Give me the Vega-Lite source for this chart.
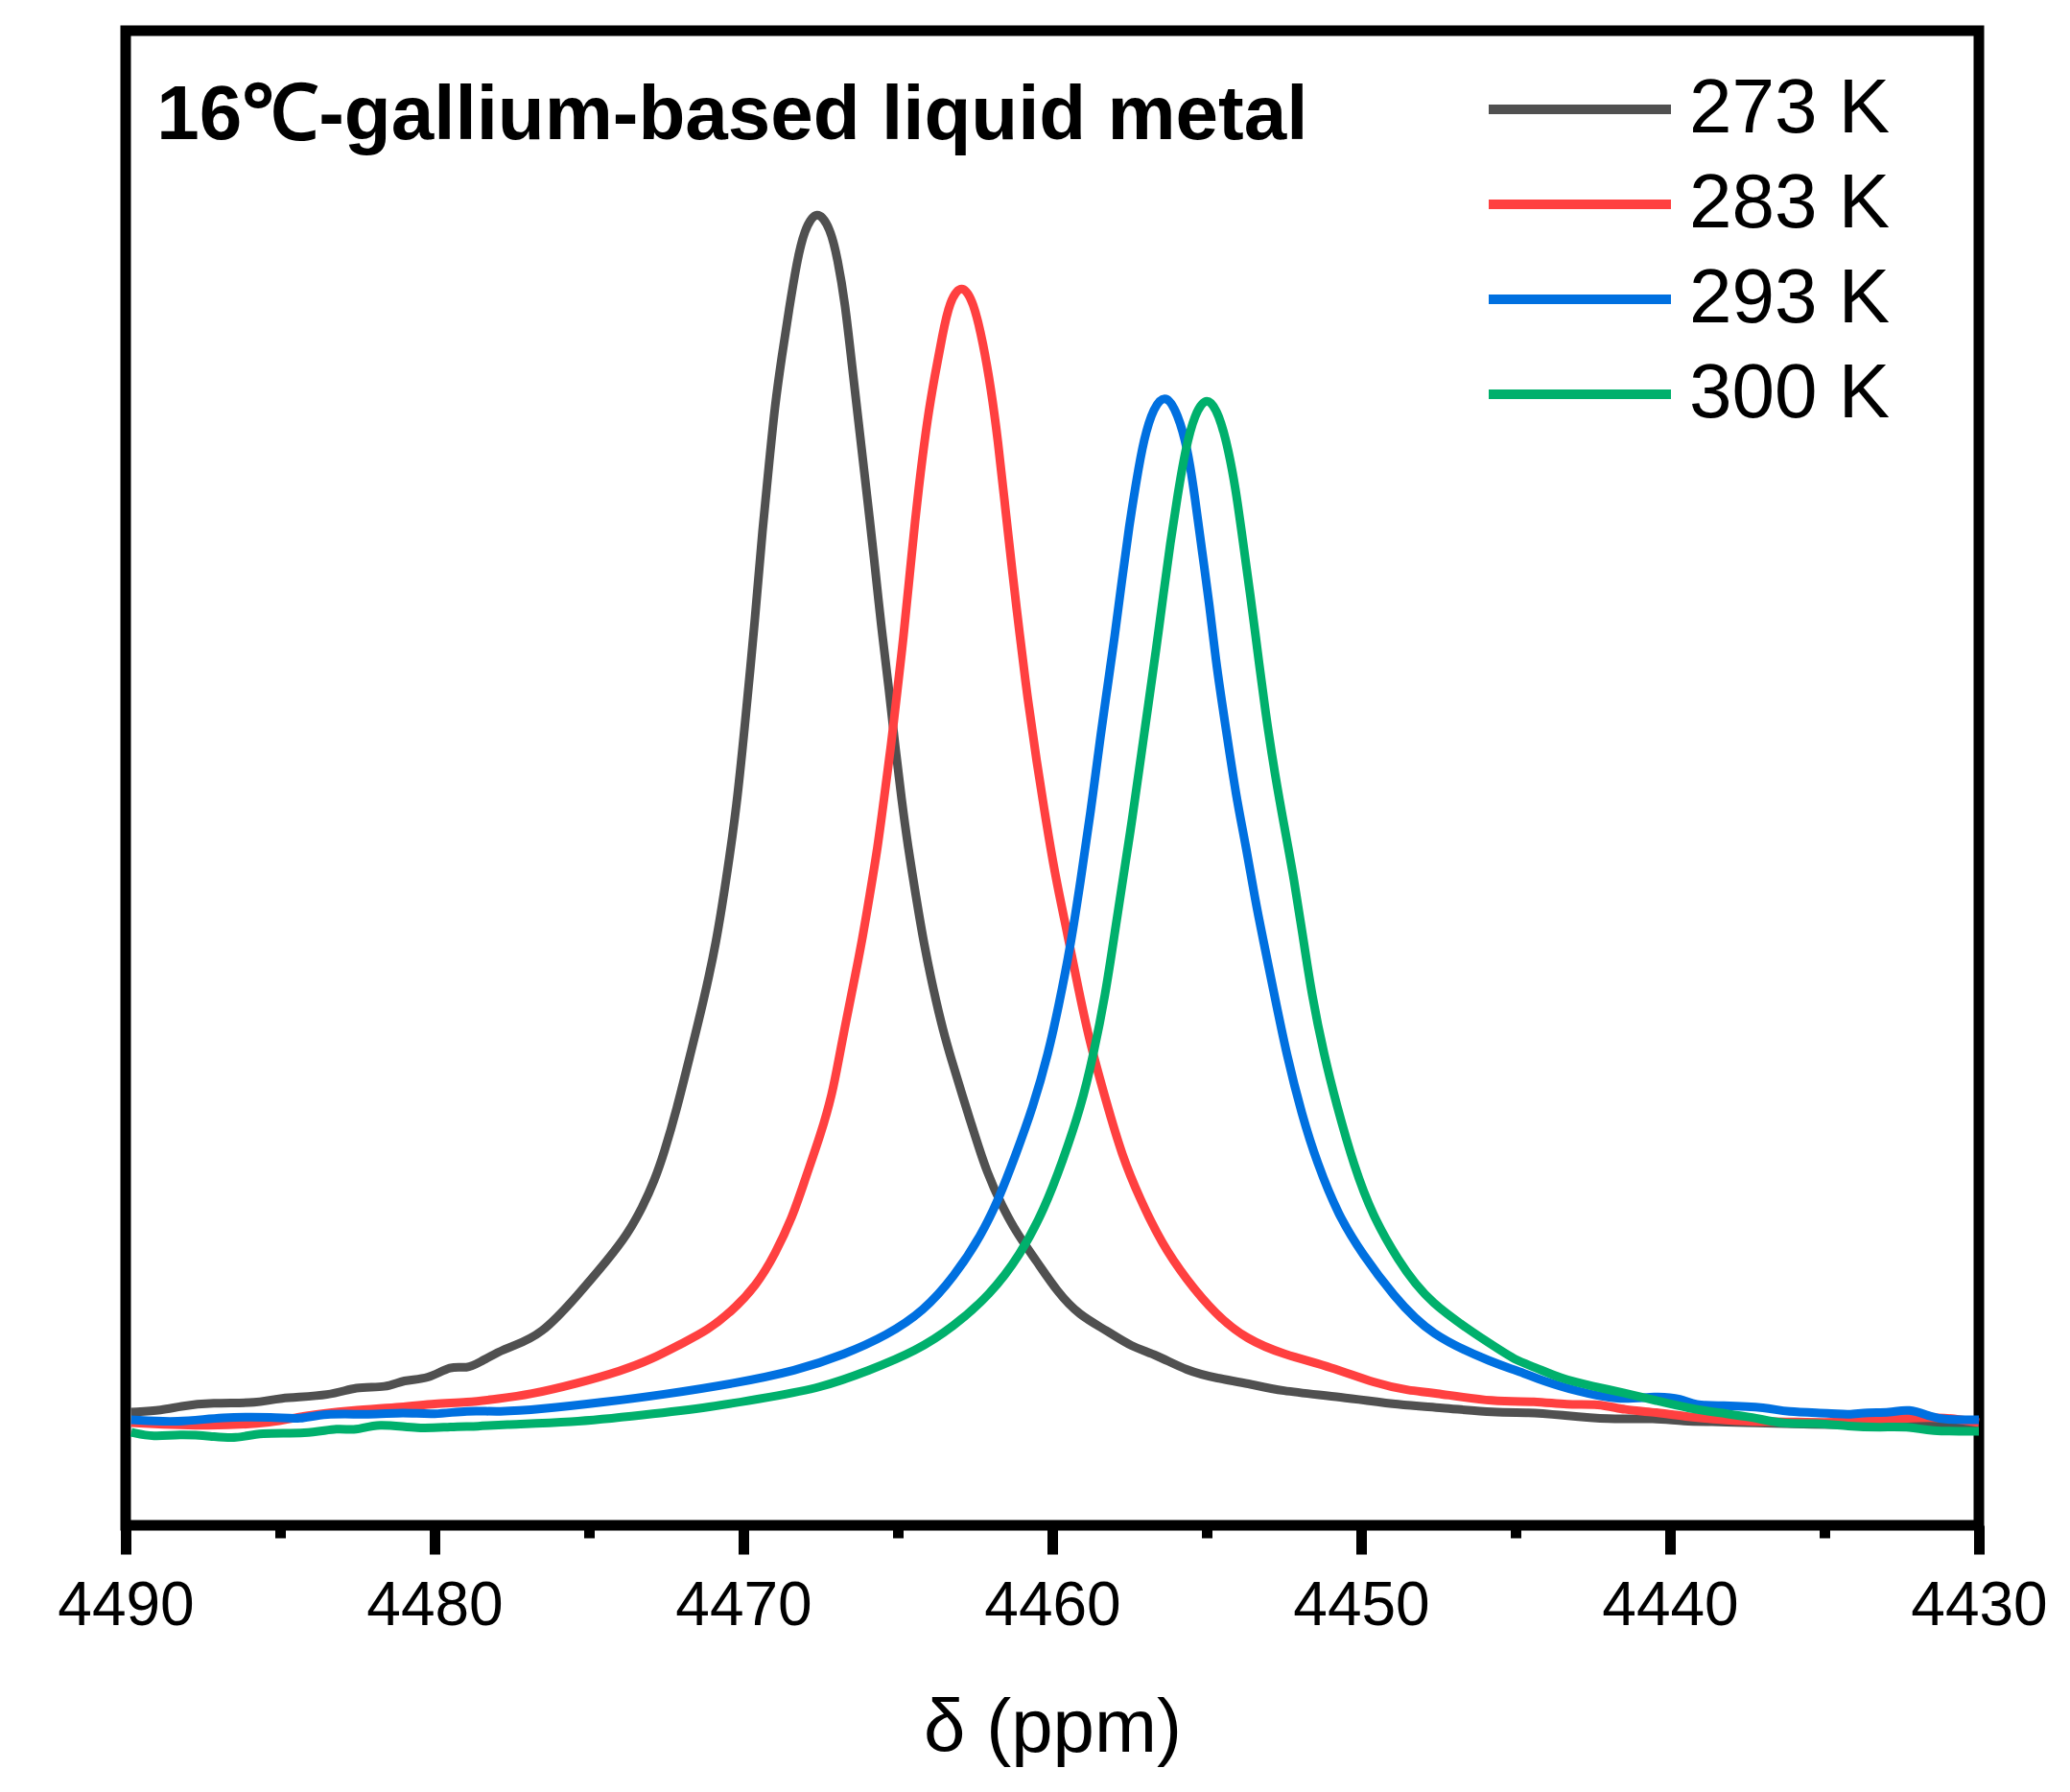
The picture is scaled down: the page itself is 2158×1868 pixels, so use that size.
{
  "$schema": "https://vega.github.io/schema/vega-lite/v6.json",
  "width": 1932,
  "height": 1558,
  "autosize": {"type": "none"},
  "padding": {"left": 131, "top": 32, "right": 95, "bottom": 278},
  "background": "white",
  "config": {
    "view": {"stroke": "black", "strokeWidth": 11},
    "font": "Liberation Sans"
  },
  "datasets": {
    "spectra": [
      {"ppm": 4489.82, "I": 118, "T": "273 K"}, {"ppm": 4488.79, "I": 120, "T": "273 K"}, {"ppm": 4488.27, "I": 124, "T": "273 K"}, {"ppm": 4487.23, "I": 128, "T": "273 K"}, {"ppm": 4485.68, "I": 127, "T": "273 K"}, {"ppm": 4485.16, "I": 133, "T": "273 K"}, {"ppm": 4483.30, "I": 135, "T": "273 K"}, {"ppm": 4482.58, "I": 145, "T": "273 K"}, {"ppm": 4481.54, "I": 143, "T": "273 K"}, {"ppm": 4481.02, "I": 152, "T": "273 K"}, {"ppm": 4480.20, "I": 152, "T": "273 K"}, {"ppm": 4479.47, "I": 167, "T": "273 K"}, {"ppm": 4478.95, "I": 163, "T": "273 K"}, {"ppm": 4478.54, "I": 170, "T": "273 K"}, {"ppm": 4477.92, "I": 181, "T": "273 K"}, {"ppm": 4477.55, "I": 186, "T": "273 K"}, {"ppm": 4476.55, "I": 198, "T": "273 K"}, {"ppm": 4475.36, "I": 240, "T": "273 K"}, {"ppm": 4474.36, "I": 278, "T": "273 K"}, {"ppm": 4473.76, "I": 303, "T": "273 K"}, {"ppm": 4473.26, "I": 332, "T": "273 K"}, {"ppm": 4472.87, "I": 360, "T": "273 K"}, {"ppm": 4472.57, "I": 388, "T": "273 K"}, {"ppm": 4472.17, "I": 432, "T": "273 K"}, {"ppm": 4471.71, "I": 492, "T": "273 K"}, {"ppm": 4471.30, "I": 545, "T": "273 K"}, {"ppm": 4470.88, "I": 607, "T": "273 K"}, {"ppm": 4470.57, "I": 670, "T": "273 K"}, {"ppm": 4470.21, "I": 750, "T": "273 K"}, {"ppm": 4469.92, "I": 845, "T": "273 K"}, {"ppm": 4469.62, "I": 945, "T": "273 K"}, {"ppm": 4469.38, "I": 1040, "T": "273 K"}, {"ppm": 4469.15, "I": 1112, "T": "273 K"}, {"ppm": 4468.99, "I": 1165, "T": "273 K"}, {"ppm": 4468.75, "I": 1220, "T": "273 K"}, {"ppm": 4468.52, "I": 1268, "T": "273 K"}, {"ppm": 4468.28, "I": 1315, "T": "273 K"}, {"ppm": 4468.04, "I": 1350, "T": "273 K"}, {"ppm": 4467.62, "I": 1373, "T": "273 K"}, {"ppm": 4467.18, "I": 1352, "T": "273 K"}, {"ppm": 4466.95, "I": 1320, "T": "273 K"}, {"ppm": 4466.71, "I": 1275, "T": "273 K"}, {"ppm": 4466.48, "I": 1208, "T": "273 K"}, {"ppm": 4466.24, "I": 1141, "T": "273 K"}, {"ppm": 4466.00, "I": 1074, "T": "273 K"}, {"ppm": 4465.76, "I": 1006, "T": "273 K"}, {"ppm": 4465.55, "I": 940, "T": "273 K"}, {"ppm": 4465.29, "I": 873, "T": "273 K"}, {"ppm": 4465.08, "I": 810, "T": "273 K"}, {"ppm": 4464.88, "I": 757, "T": "273 K"}, {"ppm": 4464.67, "I": 707, "T": "273 K"}, {"ppm": 4464.41, "I": 655, "T": "273 K"}, {"ppm": 4464.15, "I": 605, "T": "273 K"}, {"ppm": 4463.84, "I": 557, "T": "273 K"}, {"ppm": 4463.53, "I": 515, "T": "273 K"}, {"ppm": 4463.27, "I": 486, "T": "273 K"}, {"ppm": 4462.91, "I": 448, "T": "273 K"}, {"ppm": 4462.51, "I": 407, "T": "273 K"}, {"ppm": 4462.12, "I": 368, "T": "273 K"}, {"ppm": 4461.62, "I": 332, "T": "273 K"}, {"ppm": 4461.12, "I": 303, "T": "273 K"}, {"ppm": 4460.52, "I": 276, "T": "273 K"}, {"ppm": 4459.83, "I": 243, "T": "273 K"}, {"ppm": 4459.13, "I": 219, "T": "273 K"}, {"ppm": 4458.23, "I": 203, "T": "273 K"}, {"ppm": 4457.44, "I": 186, "T": "273 K"}, {"ppm": 4456.64, "I": 178, "T": "273 K"}, {"ppm": 4455.65, "I": 161, "T": "273 K"}, {"ppm": 4454.65, "I": 153, "T": "273 K"}, {"ppm": 4453.65, "I": 148, "T": "273 K"}, {"ppm": 4452.66, "I": 140, "T": "273 K"}, {"ppm": 4450.67, "I": 134, "T": "273 K"}, {"ppm": 4448.68, "I": 125, "T": "273 K"}, {"ppm": 4447.48, "I": 123, "T": "273 K"}, {"ppm": 4445.62, "I": 117, "T": "273 K"}, {"ppm": 4444.59, "I": 118, "T": "273 K"}, {"ppm": 4443.55, "I": 115, "T": "273 K"}, {"ppm": 4442.00, "I": 110, "T": "273 K"}, {"ppm": 4440.44, "I": 112, "T": "273 K"}, {"ppm": 4439.62, "I": 108, "T": "273 K"}, {"ppm": 4438.37, "I": 108, "T": "273 K"}, {"ppm": 4437.34, "I": 107, "T": "273 K"}, {"ppm": 4435.50, "I": 105, "T": "273 K"}, {"ppm": 4433.00, "I": 104, "T": "273 K"}, {"ppm": 4430.00, "I": 104, "T": "273 K"},

      {"ppm": 4489.82, "I": 107, "T": "283 K"}, {"ppm": 4487.23, "I": 103, "T": "283 K"}, {"ppm": 4485.16, "I": 107, "T": "283 K"}, {"ppm": 4484.34, "I": 114, "T": "283 K"}, {"ppm": 4482.68, "I": 120, "T": "283 K"}, {"ppm": 4481.02, "I": 123, "T": "283 K"}, {"ppm": 4480.00, "I": 127, "T": "283 K"}, {"ppm": 4478.95, "I": 128, "T": "283 K"}, {"ppm": 4477.92, "I": 132, "T": "283 K"}, {"ppm": 4476.95, "I": 136, "T": "283 K"}, {"ppm": 4475.36, "I": 148, "T": "283 K"}, {"ppm": 4473.96, "I": 161, "T": "283 K"}, {"ppm": 4472.97, "I": 173, "T": "283 K"}, {"ppm": 4471.97, "I": 190, "T": "283 K"}, {"ppm": 4471.17, "I": 203, "T": "283 K"}, {"ppm": 4470.38, "I": 223, "T": "283 K"}, {"ppm": 4469.58, "I": 250, "T": "283 K"}, {"ppm": 4468.98, "I": 282, "T": "283 K"}, {"ppm": 4468.39, "I": 323, "T": "283 K"}, {"ppm": 4467.99, "I": 362, "T": "283 K"}, {"ppm": 4467.49, "I": 408, "T": "283 K"}, {"ppm": 4467.12, "I": 450, "T": "283 K"}, {"ppm": 4466.90, "I": 488, "T": "283 K"}, {"ppm": 4466.74, "I": 515, "T": "283 K"}, {"ppm": 4466.48, "I": 557, "T": "283 K"}, {"ppm": 4466.17, "I": 607, "T": "283 K"}, {"ppm": 4465.91, "I": 657, "T": "283 K"}, {"ppm": 4465.65, "I": 707, "T": "283 K"}, {"ppm": 4465.45, "I": 757, "T": "283 K"}, {"ppm": 4465.22, "I": 812, "T": "283 K"}, {"ppm": 4465.00, "I": 875, "T": "283 K"}, {"ppm": 4464.82, "I": 925, "T": "283 K"}, {"ppm": 4464.65, "I": 980, "T": "283 K"}, {"ppm": 4464.43, "I": 1051, "T": "283 K"}, {"ppm": 4464.27, "I": 1096, "T": "283 K"}, {"ppm": 4464.04, "I": 1154, "T": "283 K"}, {"ppm": 4463.80, "I": 1199, "T": "283 K"}, {"ppm": 4463.56, "I": 1240, "T": "283 K"}, {"ppm": 4463.33, "I": 1276, "T": "283 K"}, {"ppm": 4462.93, "I": 1295, "T": "283 K"}, {"ppm": 4462.55, "I": 1276, "T": "283 K"}, {"ppm": 4462.23, "I": 1231, "T": "283 K"}, {"ppm": 4461.99, "I": 1186, "T": "283 K"}, {"ppm": 4461.76, "I": 1132, "T": "283 K"}, {"ppm": 4461.52, "I": 1060, "T": "283 K"}, {"ppm": 4461.28, "I": 990, "T": "283 K"}, {"ppm": 4461.06, "I": 930, "T": "283 K"}, {"ppm": 4460.80, "I": 862, "T": "283 K"}, {"ppm": 4460.51, "I": 797, "T": "283 K"}, {"ppm": 4460.22, "I": 738, "T": "283 K"}, {"ppm": 4459.91, "I": 678, "T": "283 K"}, {"ppm": 4459.55, "I": 623, "T": "283 K"}, {"ppm": 4459.24, "I": 573, "T": "283 K"}, {"ppm": 4458.82, "I": 507, "T": "283 K"}, {"ppm": 4458.24, "I": 440, "T": "283 K"}, {"ppm": 4457.75, "I": 386, "T": "283 K"}, {"ppm": 4457.16, "I": 340, "T": "283 K"}, {"ppm": 4456.46, "I": 294, "T": "283 K"}, {"ppm": 4455.68, "I": 257, "T": "283 K"}, {"ppm": 4454.69, "I": 219, "T": "283 K"}, {"ppm": 4453.71, "I": 194, "T": "283 K"}, {"ppm": 4452.52, "I": 178, "T": "283 K"}, {"ppm": 4450.95, "I": 165, "T": "283 K"}, {"ppm": 4449.57, "I": 148, "T": "283 K"}, {"ppm": 4448.39, "I": 140, "T": "283 K"}, {"ppm": 4447.79, "I": 139, "T": "283 K"}, {"ppm": 4445.62, "I": 128, "T": "283 K"}, {"ppm": 4444.38, "I": 130, "T": "283 K"}, {"ppm": 4443.34, "I": 125, "T": "283 K"}, {"ppm": 4442.31, "I": 127, "T": "283 K"}, {"ppm": 4441.48, "I": 120, "T": "283 K"}, {"ppm": 4440.44, "I": 118, "T": "283 K"}, {"ppm": 4439.41, "I": 113, "T": "283 K"}, {"ppm": 4438.37, "I": 110, "T": "283 K"}, {"ppm": 4437.34, "I": 108, "T": "283 K"}, {"ppm": 4436.30, "I": 108, "T": "283 K"}, {"ppm": 4435.00, "I": 107, "T": "283 K"}, {"ppm": 4433.72, "I": 108, "T": "283 K"}, {"ppm": 4432.27, "I": 112, "T": "283 K"}, {"ppm": 4431.13, "I": 113, "T": "283 K"}, {"ppm": 4430.00, "I": 107, "T": "283 K"},

      {"ppm": 4489.82, "I": 110, "T": "293 K"}, {"ppm": 4488.27, "I": 107, "T": "293 K"}, {"ppm": 4486.92, "I": 113, "T": "293 K"}, {"ppm": 4485.16, "I": 113, "T": "293 K"}, {"ppm": 4484.34, "I": 110, "T": "293 K"}, {"ppm": 4483.61, "I": 117, "T": "293 K"}, {"ppm": 4482.06, "I": 115, "T": "293 K"}, {"ppm": 4481.02, "I": 118, "T": "293 K"}, {"ppm": 4480.00, "I": 115, "T": "293 K"}, {"ppm": 4478.95, "I": 120, "T": "293 K"}, {"ppm": 4477.92, "I": 118, "T": "293 K"}, {"ppm": 4476.57, "I": 121, "T": "293 K"}, {"ppm": 4474.60, "I": 128, "T": "293 K"}, {"ppm": 4472.64, "I": 136, "T": "293 K"}, {"ppm": 4470.27, "I": 148, "T": "293 K"}, {"ppm": 4468.30, "I": 161, "T": "293 K"}, {"ppm": 4466.73, "I": 178, "T": "293 K"}, {"ppm": 4465.35, "I": 198, "T": "293 K"}, {"ppm": 4464.17, "I": 223, "T": "293 K"}, {"ppm": 4463.18, "I": 259, "T": "293 K"}, {"ppm": 4462.30, "I": 302, "T": "293 K"}, {"ppm": 4461.71, "I": 342, "T": "293 K"}, {"ppm": 4461.21, "I": 384, "T": "293 K"}, {"ppm": 4460.62, "I": 436, "T": "293 K"}, {"ppm": 4460.12, "I": 493, "T": "293 K"}, {"ppm": 4459.80, "I": 540, "T": "293 K"}, {"ppm": 4459.39, "I": 607, "T": "293 K"}, {"ppm": 4459.08, "I": 673, "T": "293 K"}, {"ppm": 4458.77, "I": 740, "T": "293 K"}, {"ppm": 4458.41, "I": 830, "T": "293 K"}, {"ppm": 4458.22, "I": 872, "T": "293 K"}, {"ppm": 4457.98, "I": 926, "T": "293 K"}, {"ppm": 4457.75, "I": 984, "T": "293 K"}, {"ppm": 4457.51, "I": 1042, "T": "293 K"}, {"ppm": 4457.27, "I": 1090, "T": "293 K"}, {"ppm": 4457.04, "I": 1132, "T": "293 K"}, {"ppm": 4456.72, "I": 1166, "T": "293 K"}, {"ppm": 4456.32, "I": 1180, "T": "293 K"}, {"ppm": 4455.94, "I": 1159, "T": "293 K"}, {"ppm": 4455.62, "I": 1123, "T": "293 K"}, {"ppm": 4455.39, "I": 1074, "T": "293 K"}, {"ppm": 4455.15, "I": 1015, "T": "293 K"}, {"ppm": 4454.91, "I": 960, "T": "293 K"}, {"ppm": 4454.68, "I": 894, "T": "293 K"}, {"ppm": 4454.36, "I": 827, "T": "293 K"}, {"ppm": 4454.05, "I": 760, "T": "293 K"}, {"ppm": 4453.74, "I": 710, "T": "293 K"}, {"ppm": 4453.42, "I": 650, "T": "293 K"}, {"ppm": 4453.20, "I": 615, "T": "293 K"}, {"ppm": 4452.81, "I": 553, "T": "293 K"}, {"ppm": 4452.41, "I": 490, "T": "293 K"}, {"ppm": 4451.92, "I": 428, "T": "293 K"}, {"ppm": 4451.43, "I": 378, "T": "293 K"}, {"ppm": 4450.74, "I": 323, "T": "293 K"}, {"ppm": 4449.95, "I": 282, "T": "293 K"}, {"ppm": 4448.97, "I": 240, "T": "293 K"}, {"ppm": 4447.78, "I": 198, "T": "293 K"}, {"ppm": 4445.62, "I": 168, "T": "293 K"}, {"ppm": 4445.00, "I": 162, "T": "293 K"}, {"ppm": 4444.07, "I": 150, "T": "293 K"}, {"ppm": 4443.03, "I": 140, "T": "293 K"}, {"ppm": 4441.69, "I": 130, "T": "293 K"}, {"ppm": 4440.44, "I": 135, "T": "293 K"}, {"ppm": 4439.62, "I": 132, "T": "293 K"}, {"ppm": 4439.20, "I": 125, "T": "293 K"}, {"ppm": 4438.38, "I": 125, "T": "293 K"}, {"ppm": 4436.82, "I": 123, "T": "293 K"}, {"ppm": 4436.30, "I": 118, "T": "293 K"}, {"ppm": 4434.75, "I": 117, "T": "293 K"}, {"ppm": 4434.23, "I": 115, "T": "293 K"}, {"ppm": 4433.61, "I": 118, "T": "293 K"}, {"ppm": 4432.89, "I": 117, "T": "293 K"}, {"ppm": 4432.27, "I": 122, "T": "293 K"}, {"ppm": 4431.54, "I": 113, "T": "293 K"}, {"ppm": 4431.13, "I": 110, "T": "293 K"}, {"ppm": 4430.00, "I": 110, "T": "293 K"},

      {"ppm": 4489.82, "I": 97, "T": "300 K"}, {"ppm": 4489.10, "I": 92, "T": "300 K"}, {"ppm": 4488.27, "I": 95, "T": "300 K"}, {"ppm": 4487.23, "I": 93, "T": "300 K"}, {"ppm": 4486.41, "I": 90, "T": "300 K"}, {"ppm": 4485.68, "I": 97, "T": "300 K"}, {"ppm": 4484.13, "I": 95, "T": "300 K"}, {"ppm": 4483.09, "I": 102, "T": "300 K"}, {"ppm": 4482.58, "I": 98, "T": "300 K"}, {"ppm": 4481.85, "I": 107, "T": "300 K"}, {"ppm": 4480.51, "I": 100, "T": "300 K"}, {"ppm": 4479.47, "I": 103, "T": "300 K"}, {"ppm": 4478.54, "I": 103, "T": "300 K"}, {"ppm": 4477.92, "I": 105, "T": "300 K"}, {"ppm": 4475.59, "I": 107, "T": "300 K"}, {"ppm": 4473.23, "I": 115, "T": "300 K"}, {"ppm": 4471.07, "I": 123, "T": "300 K"}, {"ppm": 4469.10, "I": 134, "T": "300 K"}, {"ppm": 4467.52, "I": 143, "T": "300 K"}, {"ppm": 4465.95, "I": 161, "T": "300 K"}, {"ppm": 4464.38, "I": 182, "T": "300 K"}, {"ppm": 4463.20, "I": 207, "T": "300 K"}, {"ppm": 4462.02, "I": 240, "T": "300 K"}, {"ppm": 4461.03, "I": 282, "T": "300 K"}, {"ppm": 4460.25, "I": 330, "T": "300 K"}, {"ppm": 4459.66, "I": 380, "T": "300 K"}, {"ppm": 4459.07, "I": 436, "T": "300 K"}, {"ppm": 4458.67, "I": 490, "T": "300 K"}, {"ppm": 4458.28, "I": 553, "T": "300 K"}, {"ppm": 4457.99, "I": 615, "T": "300 K"}, {"ppm": 4457.69, "I": 678, "T": "300 K"}, {"ppm": 4457.45, "I": 728, "T": "300 K"}, {"ppm": 4457.35, "I": 751, "T": "300 K"}, {"ppm": 4457.11, "I": 805, "T": "300 K"}, {"ppm": 4456.88, "I": 858, "T": "300 K"}, {"ppm": 4456.64, "I": 912, "T": "300 K"}, {"ppm": 4456.40, "I": 971, "T": "300 K"}, {"ppm": 4456.18, "I": 1024, "T": "300 K"}, {"ppm": 4455.94, "I": 1074, "T": "300 K"}, {"ppm": 4455.70, "I": 1120, "T": "300 K"}, {"ppm": 4455.39, "I": 1159, "T": "300 K"}, {"ppm": 4454.99, "I": 1178, "T": "300 K"}, {"ppm": 4454.60, "I": 1159, "T": "300 K"}, {"ppm": 4454.28, "I": 1119, "T": "300 K"}, {"ppm": 4454.05, "I": 1078, "T": "300 K"}, {"ppm": 4453.82, "I": 1024, "T": "300 K"}, {"ppm": 4453.58, "I": 968, "T": "300 K"}, {"ppm": 4453.34, "I": 908, "T": "300 K"}, {"ppm": 4453.11, "I": 850, "T": "300 K"}, {"ppm": 4452.79, "I": 782, "T": "300 K"}, {"ppm": 4452.45, "I": 722, "T": "300 K"}, {"ppm": 4452.18, "I": 675, "T": "300 K"}, {"ppm": 4451.89, "I": 615, "T": "300 K"}, {"ppm": 4451.60, "I": 553, "T": "300 K"}, {"ppm": 4451.20, "I": 490, "T": "300 K"}, {"ppm": 4450.81, "I": 440, "T": "300 K"}, {"ppm": 4450.22, "I": 373, "T": "300 K"}, {"ppm": 4449.63, "I": 323, "T": "300 K"}, {"ppm": 4448.84, "I": 278, "T": "300 K"}, {"ppm": 4447.85, "I": 232, "T": "300 K"}, {"ppm": 4445.62, "I": 185, "T": "300 K"}, {"ppm": 4445.00, "I": 172, "T": "300 K"}, {"ppm": 4444.38, "I": 165, "T": "300 K"}, {"ppm": 4443.55, "I": 153, "T": "300 K"}, {"ppm": 4442.51, "I": 145, "T": "300 K"}, {"ppm": 4441.48, "I": 138, "T": "300 K"}, {"ppm": 4440.44, "I": 130, "T": "300 K"}, {"ppm": 4439.41, "I": 122, "T": "300 K"}, {"ppm": 4438.37, "I": 117, "T": "300 K"}, {"ppm": 4437.34, "I": 113, "T": "300 K"}, {"ppm": 4436.30, "I": 105, "T": "300 K"}, {"ppm": 4435.27, "I": 107, "T": "300 K"}, {"ppm": 4434.23, "I": 103, "T": "300 K"}, {"ppm": 4433.20, "I": 102, "T": "300 K"}, {"ppm": 4432.17, "I": 103, "T": "300 K"}, {"ppm": 4431.64, "I": 98, "T": "300 K"}, {"ppm": 4430.00, "I": 98, "T": "300 K"}
    ],
    "note": [{"label": "16℃-gallium-based liquid metal"}]
  },
  "layer": [
    {
      "data": {"name": "spectra"},
      "mark": {"type": "line", "strokeWidth": 9, "strokeJoin": "round", "interpolate": "basis"},
      "encoding": {
        "x": {
          "field": "ppm", "type": "quantitative",
          "scale": {"domain": [4430, 4490], "reverse": true, "nice": false, "zero": false},
          "axis": {
            "title": "δ (ppm)",
            "titleFont": "Liberation Sans", "titleFontSize": 78, "titleFontWeight": "normal", "titleColor": "black",
            "titleBaseline": "alphabetic", "titleY": 235,
            "values": [4490, 4485, 4480, 4475, 4470, 4465, 4460, 4455, 4450, 4445, 4440, 4435, 4430],
            "labelExpr": "datum.value % 10 === 0 ? format(datum.value, 'd') : ''",
            "labelFont": "Liberation Sans", "labelFontSize": 64, "labelColor": "black",
            "labelPadding": 22, "labelFlush": false, "labelOverlap": false, "labelBound": false,
            "domain": false, "grid": false,
            "tickColor": "black", "tickWidth": 11,
            "tickSize": {"condition": {"test": "datum.value % 10 === 0", "value": 30}, "value": 13}
          }
        },
        "y": {
          "field": "I", "type": "quantitative",
          "scale": {"domain": [0, 1558], "nice": false, "zero": false},
          "axis": null
        },
        "color": {
          "field": "T", "type": "nominal",
          "scale": {"domain": ["273 K", "283 K", "293 K", "300 K"], "range": ["#505050", "#FF4040", "#0070E0", "#00B06C"]},
          "legend": {
            "title": null,
            "orient": "none",
            "legendX": 1473,
            "legendY": 39,
            "padding": 0,
            "symbolType": "M-2.5,0H2.5",
            "symbolSize": 5776,
            "symbolStrokeWidth": 10,
            "labelFont": "Liberation Sans",
            "labelFontSize": 80,
            "labelColor": "black",
            "labelLimit": 500,
            "labelOffset": 71,
            "rowPadding": 16
          }
        }
      }
    },
    {
      "data": {"name": "note"},
      "mark": {"type": "text", "align": "left", "baseline": "alphabetic", "font": "Liberation Sans", "fontSize": 80, "fontWeight": "bold", "color": "black"},
      "encoding": {
        "x": {"datum": 4489.0, "type": "quantitative"},
        "y": {"datum": 1445, "type": "quantitative"},
        "text": {"field": "label"}
      }
    }
  ]
}
